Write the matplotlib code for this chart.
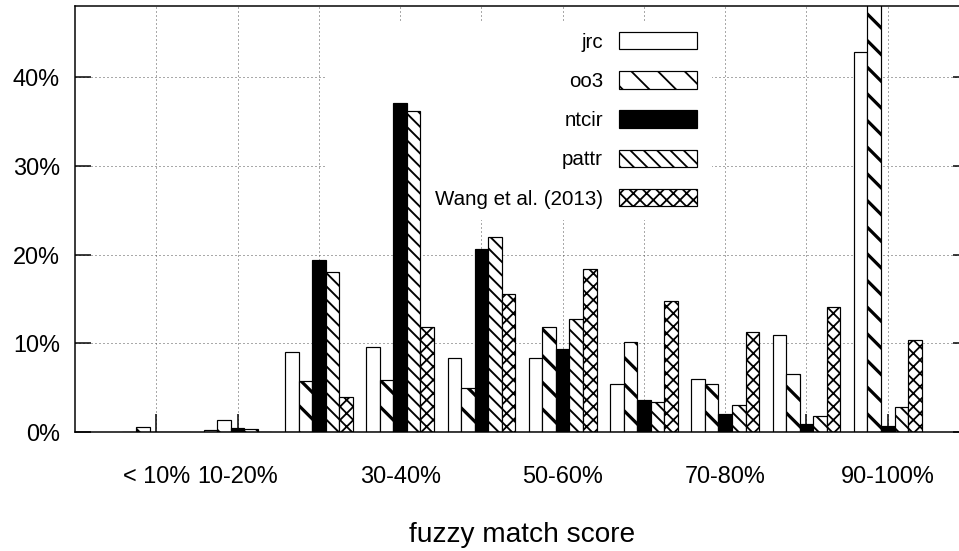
import matplotlib
matplotlib.use("Agg")
import matplotlib.pyplot as plt
from matplotlib.patches import Rectangle
import numpy as np

# share of segments per fuzzy match bucket, in percent
tick_labels = ["< 10%", "10-20%", "", "30-40%", "", "50-60%", "", "70-80%", "", "90-100%"]
series_names = ["jrc", "oo3", "ntcir", "pattr", "Wang et al. (2013)"]
jrc = [0.0, 0.2, 9.0, 9.6, 8.3, 8.3, 5.4, 6.0, 11.0, 42.9]
oo3 = [0.6, 1.3, 5.7, 5.9, 5.0, 11.8, 10.2, 5.4, 6.6, 49.0]
ntcir = [0.0, 0.4, 19.4, 37.1, 20.6, 9.4, 3.6, 2.0, 0.9, 0.7]
pattr = [0.0, 0.3, 18.0, 36.2, 22.0, 12.8, 3.4, 3.0, 1.8, 2.8]
wang = [0.0, 0.0, 3.9, 11.9, 15.6, 18.4, 14.8, 11.3, 14.1, 10.4]
yticks = [0, 10, 20, 30, 40]

# hatch spacing in agg scales with dpi, 80 gives the gnuplot-like density
DPI = 80
W, H = 959, 551


def px(v):
    # pixels -> points at this dpi
    return v * 72.0 / DPI


plt.rcParams["font.family"] = ["Liberation Sans", "DejaVu Sans"]
plt.rcParams["font.size"] = px(23.5)

fig = plt.figure(figsize=(W / DPI, H / DPI), dpi=DPI)
# plot frame in pixels: left 75, right 969 (past the edge), bottom 432, top 5.7
ax = fig.add_axes([75 / W, (H - 432) / H, 894 / W, (432 - 5.7) / H])

styles = [
    dict(facecolor="white", hatch=None, hlw=px(1)),
    dict(facecolor="white", hatch="\\", hlw=px(3.2)),
    dict(facecolor="black", hatch=None, hlw=px(1)),
    dict(facecolor="white", hatch="\\\\", hlw=px(1.9)),
    dict(facecolor="white", hatch="xx", hlw=px(1.8)),
]

x = np.arange(len(tick_labels))
w = 1.0 / 6
handles = []
for i, (name, vals, st) in enumerate(zip(series_names, [jrc, oo3, ntcir, pattr, wang], styles)):
    plt.rcParams["hatch.linewidth"] = st["hlw"]
    bars = ax.bar(x + (i - 2) * w, vals, width=w, facecolor=st["facecolor"],
                  edgecolor="black", linewidth=px(1.2), hatch=st["hatch"], label=name, zorder=2)
    for b in bars:
        try:
            b.set_hatch_linewidth(st["hlw"])
        except AttributeError:
            pass
    handles.append(bars)

ax.set_xlim(-1, 10)
ax.set_ylim(0, 48.1)
ax.set_xticks(x)
ax.set_xticklabels(tick_labels)
ax.set_yticks(yticks)
ax.set_yticklabels([f"{v}%" for v in yticks])

ax.set_axisbelow(True)
ax.grid(True, color="#555555", linestyle=(0, (1, 3)), linewidth=px(1))

ax.tick_params(axis="y", direction="in", left=True, right=True, length=px(16), width=px(1.5), pad=px(15))
ax.tick_params(axis="x", direction="in", bottom=True, top=False, length=px(18), width=px(1.5), pad=px(32.8))
for s in ax.spines.values():
    s.set_linewidth(px(1.5))

ax.set_xlabel("fuzzy match score", fontsize=px(28), labelpad=px(34.6))

# white key background hides the grid behind it
ax.add_patch(Rectangle((327 / W, (H - 220) / H), 385 / W, 198 / H, transform=fig.transFigure,
                       facecolor="white", edgecolor="none", zorder=1))

leg = ax.legend(handles=handles, loc="upper right", bbox_to_anchor=(697 / W, (H - 32) / H),
                bbox_transform=fig.transFigure, frameon=False, markerfirst=False,
                fontsize=px(20.5), handlelength=3.8, handleheight=0.93, handletextpad=0.78,
                labelspacing=0.95, borderpad=0, borderaxespad=0)
leg.set_zorder(3)

fig.savefig("out.png", dpi=DPI)
